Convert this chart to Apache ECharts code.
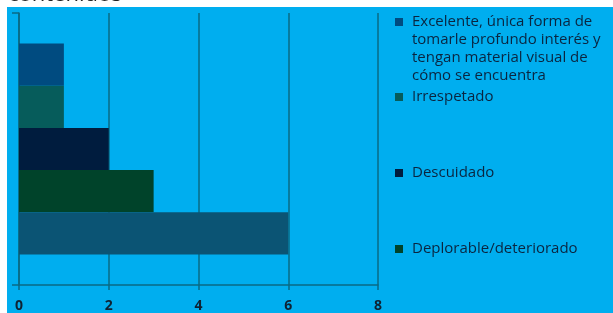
<!DOCTYPE html>
<html>
<head>
<meta charset="utf-8">
<script src="https://cdn.jsdelivr.net/npm/echarts@6/dist/echarts.min.js"></script>
<style>
html,body{margin:0;padding:0;background:#fff;}
#c{width:613px;height:313px;}
</style>
</head>
<body>
<div id="c"></div>
<script>
var titleText = 'contenidos';
var categories = [''];
var seriesNames = [
  'Excelente, única forma de tomarle profundo interés y tengan material visual de cómo se encuentra',
  'Irrespetado',
  'Descuidado',
  'Deplorable/deteriorado',
  ''
];
var seriesValues = [1, 1, 2, 3, 6];
var seriesColors = ['#004B80', '#065C5B', '#001C3E', '#00432A', '#0B5474'];
var xTicks = [0, 2, 4, 6, 8];

var legendWrap = {};
legendWrap[seriesNames[0]] = '\n\n\nExcelente, única forma de\ntomarle profundo interés y\ntengan material visual de\ncómo se encuentra';

var gridColor = '#0A6A85';
var series = seriesNames.map(function (n, i) {
  return {
    name: n || ' ',
    type: 'bar',
    data: [seriesValues[i]],
    barGap: '0%',
    barCategoryGap: '22.5%',
    itemStyle: { color: seriesColors[i] }
  };
});

var legendTops = [-41, 88, 164, 240];
var legends = legendTops.map(function (t, i) {
  return {
    left: 395,
    top: t,
    padding: 0,
    itemWidth: 8,
    itemHeight: 8,
    icon: 'rect',
    data: [seriesNames[i]],
    selectedMode: false,
    formatter: function (name) { return legendWrap[name] || name; },
    textStyle: { fontFamily: 'Open Sans', fontSize: 15, color: '#0A2540', lineHeight: 18, padding: [0, 0, 0, 4] },
    itemGap: 0
  };
});

var chart = echarts.init(document.getElementById('c'), null, { renderer: 'canvas' });
chart.setOption({
  backgroundColor: '#ffffff',
  animation: false,
  graphic: [{
    type: 'rect', z: -100, silent: true,
    shape: { x: 7, y: 7, width: 606, height: 306 },
    style: { fill: '#00AEEF' }
  }, {
    type: 'text', z: 100, silent: true,
    x: 8, y: 6,
    style: {
      text: titleText, fill: '#222', font: '22px "Open Sans"',
      textAlign: 'left', textVerticalAlign: 'bottom'
    }
  }],
  legend: legends,
  grid: { left: 19, right: 235, top: 13, bottom: 26, containLabel: false },
  xAxis: {
    type: 'value',
    min: 0, max: 8, interval: 2,
    axisLine: { show: true, lineStyle: { color: gridColor, width: 1.5 } },
    axisTick: { show: true, length: 5, lineStyle: { color: gridColor, width: 1.5 } },
    splitLine: { show: true, lineStyle: { color: gridColor, width: 1.5 } },
    axisLabel: {
      margin: 14, fontFamily: 'Open Sans', fontSize: 14, fontWeight: 'bold', color: '#0E2233',
      formatter: function (v) { return xTicks.indexOf(v) >= 0 ? String(v) : ''; }
    }
  },
  yAxis: {
    type: 'category',
    data: categories,
    axisLine: { show: true, lineStyle: { color: gridColor, width: 1.5 } },
    axisTick: { show: true, length: 7, lineStyle: { color: gridColor, width: 1.5 } },
    axisLabel: { show: false }
  },
  series: series
});
</script>
</body>
</html>
